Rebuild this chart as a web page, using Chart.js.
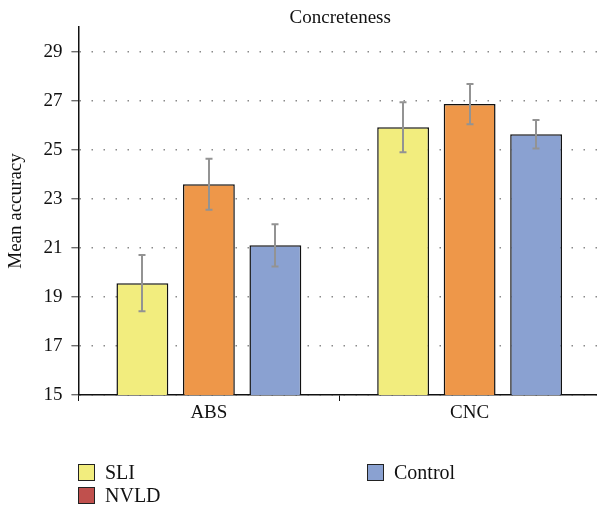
<!DOCTYPE html>
<html><head><meta charset="utf-8">
<script src="https://cdn.jsdelivr.net/npm/chart.js@4"></script>
<style>
html,body{margin:0;padding:0;background:#fff;overflow:hidden;}
#wrap{position:relative;width:597px;height:513px;overflow:hidden;}
#c{position:absolute;left:0;top:0;}
</style></head>
<body><div id="wrap"><canvas id="c" width="600" height="513"></canvas></div>
<script>
const categories = ["ABS", "CNC"];
const seriesNames = ["SLI", "NVLD", "Control"];
const sliMeans = [19.56, 25.91];
const nvldMeans = [23.59, 26.86];
const controlMeans = [21.1, 25.63];
const sliErr = [1.15, 1.02];
const nvldErr = [1.04, 0.82];
const controlErr = [0.86, 0.58];
const yTicks = [15, 17, 19, 21, 23, 25, 27, 29];
const chartTitle = "Concreteness";

const fillColors = ["#f2ed7e", "#ee9749", "#8aa1d1"];
const legendColors = ["#f2ed7e", "#c0504d", "#8aa1d1"];
const errs = [sliErr, nvldErr, controlErr];
const means = [sliMeans, nvldMeans, controlMeans];
const serif = '"Liberation Serif","Times New Roman",Times,serif';

const errPlugin = {
  id: 'errbars',
  afterDatasetsDraw(chart) {
    const ctx = chart.ctx, y = chart.scales.y;
    ctx.save();
    ctx.strokeStyle = '#939393';
    ctx.lineWidth = 2;
    chart.data.datasets.forEach((ds, i) => {
      const meta = chart.getDatasetMeta(i);
      meta.data.forEach((bar, j) => {
        const v = ds.data[j], e = errs[i][j];
        const x = Math.round(bar.x);
        const yt = y.getPixelForValue(v + e), yb = y.getPixelForValue(v - e);
        ctx.beginPath();
        ctx.moveTo(x, yt); ctx.lineTo(x, yb);
        ctx.moveTo(x - 3.5, yt); ctx.lineTo(x + 3.5, yt);
        ctx.moveTo(x - 3.5, yb); ctx.lineTo(x + 3.5, yb);
        ctx.stroke();
      });
    });
    ctx.restore();
  }
};

const titlePlugin = {
  id: 'centerTitle',
  afterDraw(chart) {
    const ctx = chart.ctx, a = chart.chartArea;
    ctx.save();
    ctx.fillStyle = '#111';
    ctx.font = '19px ' + serif;
    ctx.textAlign = 'center';
    ctx.textBaseline = 'alphabetic';
    ctx.fillText(chartTitle, (a.left + a.right) / 2 + 1, 23);
    ctx.restore();
  }
};

// legend laid out as in the reference: two columns, SLI/NVLD left, Control right
const legendSlots = [{x: 78, y: 464}, {x: 78, y: 487}, {x: 367, y: 464}];
const legendPlugin = {
  id: 'gridLegend',
  afterDraw(chart) {
    const ctx = chart.ctx;
    ctx.save();
    ctx.font = '20px ' + serif;
    ctx.textAlign = 'left';
    ctx.textBaseline = 'middle';
    seriesNames.forEach((n, i) => {
      const s = legendSlots[i];
      ctx.fillStyle = legendColors[i];
      ctx.fillRect(s.x, s.y, 17, 17);
      ctx.strokeStyle = '#222';
      ctx.lineWidth = 1;
      ctx.strokeRect(s.x + 0.5, s.y + 0.5, 16, 16);
      ctx.fillStyle = '#111';
      ctx.fillText(n, s.x + 27, s.y + 9.5);
    });
    ctx.restore();
  }
};

new Chart(document.getElementById('c'), {
  type: 'bar',
  data: {
    labels: categories,
    datasets: seriesNames.map((n, i) => ({
      label: n,
      data: means[i],
      backgroundColor: fillColors[i],
      borderColor: '#111',
      borderWidth: 1.5,
      categoryPercentage: 0.765,
      barPercentage: 0.78
    }))
  },
  options: {
    responsive: false,
    animation: false,
    layout: { padding: { left: 0, right: 0, top: 27, bottom: 0 } },
    plugins: {
      legend: { display: false },
      tooltip: { enabled: false },
      title: { display: false }
    },
    scales: {
      x: {
        offset: true,
        afterFit: (axis) => { axis.height = 118; },
        grid: { display: true, drawOnChartArea: false, drawTicks: true, tickLength: 6, color: '#111', offset: true },
        border: { color: '#111', width: 1.5 },
        ticks: { color: '#111', font: { family: serif, size: 19 }, padding: 1 }
      },
      y: {
        min: 15, max: 30,
        afterFit: (axis) => { axis.width = 78.5; },
        afterBuildTicks: (axis) => { axis.ticks = yTicks.map(v => ({ value: v })); },
        grid: { color: '#8a8a8a', lineWidth: 1.5, tickLength: 7, tickColor: '#111', tickBorderDash: [1, 0], tickWidth: 1 },
        border: { color: '#111', width: 1.5, dash: [1.5, 10.5] },
        ticks: { color: '#111', font: { family: serif, size: 19 }, padding: 9 },
        title: { display: true, text: 'Mean accuracy', color: '#111', font: { family: serif, size: 19 }, padding: { top: 5, bottom: 0 } }
      }
    }
  },
  plugins: [errPlugin, titlePlugin, legendPlugin]
});
</script></body></html>
